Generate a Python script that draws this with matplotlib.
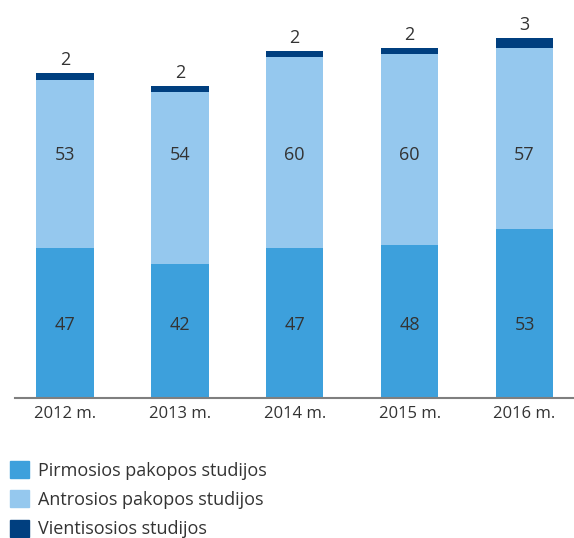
import matplotlib.pyplot as plt
from matplotlib.patches import Patch

plt.rcParams['font.family'] = ['Open Sans', 'DejaVu Sans']

years = ['2012 m.', '2013 m.', '2014 m.', '2015 m.', '2016 m.']
pirmosios = [47, 42, 47, 48, 53]
antrosios = [53, 54, 60, 60, 57]
vientisosios = [2, 2, 2, 2, 3]

series_names = ['Pirmosios pakopos studijos', 'Antrosios pakopos studijos', 'Vientisosios studijos']
colors = ['#3DA0DC', '#95C8EE', '#003F7F']
text_color = '#333333'

fig = plt.figure(figsize=(5.74, 5.38), dpi=100)
ax = fig.add_axes([0.026, 0.261, 0.974, 0.739])

x = list(range(len(years)))
width = 0.5
ax.bar(x, pirmosios, width, color=colors[0])
ax.bar(x, antrosios, width, bottom=pirmosios, color=colors[1])
bottom3 = [a + b for a, b in zip(pirmosios, antrosios)]
ax.bar(x, vientisosios, width, bottom=bottom3, color=colors[2])

# inner labels sit on a common line in the original
for i in x:
    ax.text(i, 22.9, str(pirmosios[i]), ha='center', va='center',
            fontsize=13, color=text_color)
    ax.text(i, 76.3, str(antrosios[i]), ha='center', va='center',
            fontsize=13, color=text_color)
    ax.text(i, bottom3[i] + vientisosios[i] + 1.3, str(vientisosios[i]), ha='center',
            va='bottom', fontsize=13, color=text_color)

ax.set_xlim(-0.435, 4.43)
ax.set_ylim(0, 125)
ax.set_xticks(x)
ax.set_xticklabels(years, fontsize=12, color=text_color)
ax.tick_params(axis='x', length=0, pad=6)
ax.set_yticks([])
for side in ['top', 'right', 'left']:
    ax.spines[side].set_visible(False)
ax.spines['bottom'].set_color('#7F7F7F')
ax.spines['bottom'].set_linewidth(1.5)

handles = [Patch(color=c) for c in colors]
fig.legend(handles, series_names, loc='upper left', bbox_to_anchor=(0.017, 0.143),
           frameon=False, fontsize=13, handlelength=1.05, handleheight=1.05,
           labelspacing=0.6, handletextpad=0.5, borderaxespad=0, borderpad=0,
           labelcolor=text_color)

fig.savefig('out.png', dpi=100)
